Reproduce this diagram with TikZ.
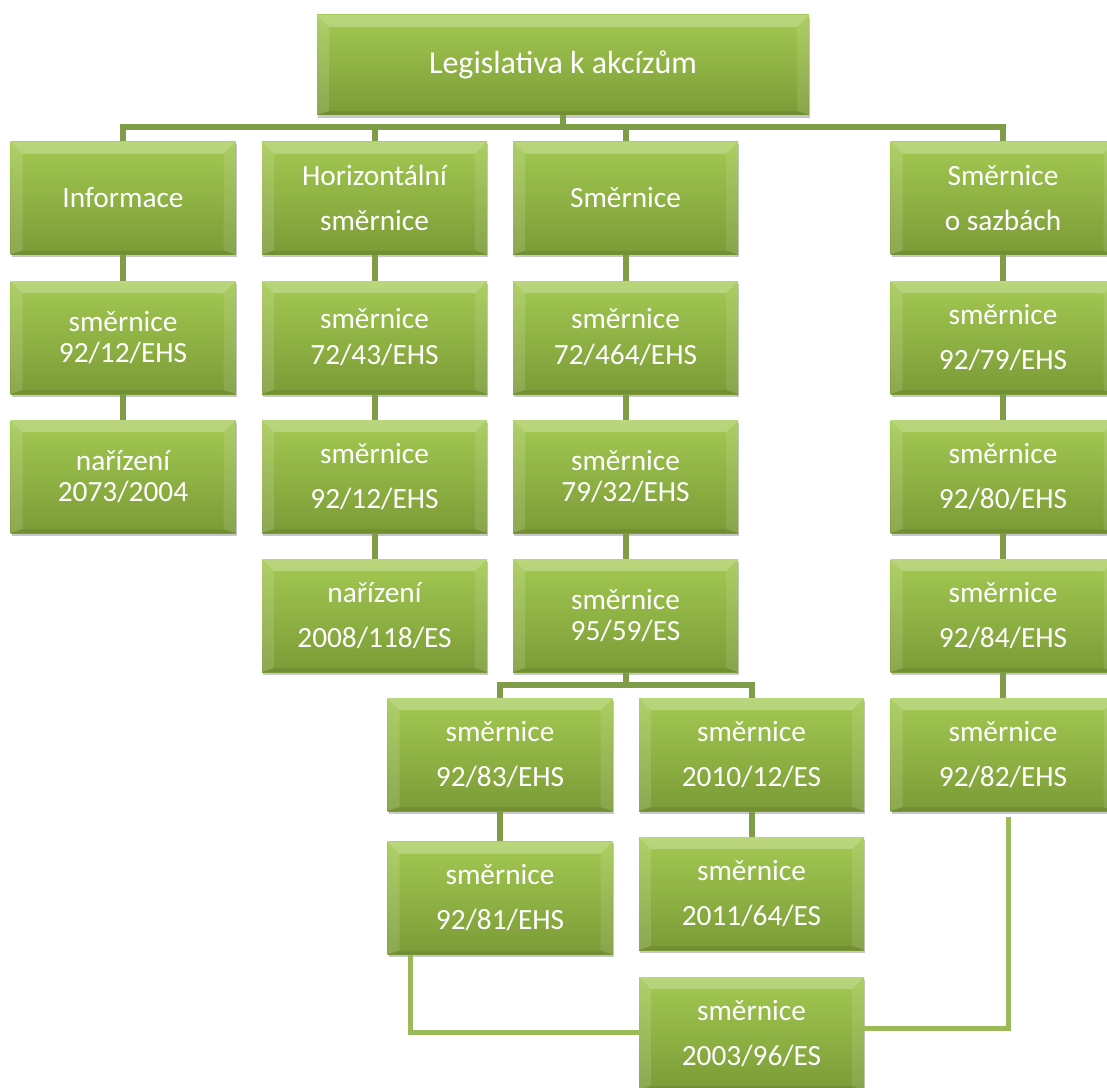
\documentclass[tikz,border=0pt]{standalone}
\usepackage{fontspec}
\setmainfont{Carlito}
\usepackage{xcolor}
\definecolor{leaf-top}{HTML}{A3C952}
\definecolor{leaf-bottom}{HTML}{7B9B37}
\definecolor{branch}{HTML}{7F9C48}
\definecolor{twig}{HTML}{9BBB59}
\usepackage{tikz}
\usetikzlibrary{shadows}

\tikzset{
    leaf/.style={rectangle, inner sep=0pt, minimum width=168.75pt, minimum height=84.75pt,
        text=white, align=center, font=\fontsize{22pt}{33.75pt}\selectfont,
        drop shadow={shadow xshift=1pt, shadow yshift=-2pt, opacity=0.22, fill=black},
        path picture={
            % Body
            \shade[top color=leaf-top, bottom color=leaf-bottom]
                (path picture bounding box.south west) rectangle (path picture bounding box.north east);
            % Top bevel
            \fill[white, opacity=0.25] (path picture bounding box.north west) -- (path picture bounding box.north east)
                -- ([shift={(-9pt,-9pt)}]path picture bounding box.north east)
                -- ([shift={(9pt,-9pt)}]path picture bounding box.north west) -- cycle;
            % Left bevel
            \fill[white, opacity=0.13] (path picture bounding box.north west)
                -- ([shift={(9pt,-9pt)}]path picture bounding box.north west)
                -- ([shift={(9pt,3pt)}]path picture bounding box.south west)
                -- (path picture bounding box.south west) -- cycle;
            % Right bevel
            \fill[white, opacity=0.1] (path picture bounding box.north east)
                -- ([shift={(-9pt,-9pt)}]path picture bounding box.north east)
                -- ([shift={(-9pt,3pt)}]path picture bounding box.south east)
                -- (path picture bounding box.south east) -- cycle;
            % Bottom bevel
            \fill[black, opacity=0.08] (path picture bounding box.south west)
                -- ([shift={(9pt,3pt)}]path picture bounding box.south west)
                -- ([shift={(-9pt,3pt)}]path picture bounding box.south east)
                -- (path picture bounding box.south east) -- cycle;
        }},
    tight/.style={font=\fontsize{22pt}{23.5pt}\selectfont},
    snug/.style={font=\fontsize{22pt}{27pt}\selectfont},
    branch line/.style={draw=branch, line width=4.5pt},
    twig line/.style={draw=twig, line width=3.75pt},
}

\begin{document}
\begin{tikzpicture}[x=0.75pt, y=-0.75pt]

    % Page
    \useasboundingbox (0, 0) rectangle (1107, 1088);

    % Root
    \node[leaf, minimum width=369pt, minimum height=75pt, font=\fontsize{24pt}{30pt}\selectfont]
        (root) at (563, 65) {Legislativa k akcízům};

    % First row
    \node[leaf] (info) at (123, 198) {Informace};
    \node[leaf] (horiz) at (374.5, 198) {Horizontální\\směrnice};
    \node[leaf] (smer) at (625.5, 198) {Směrnice};
    \node[leaf] (sazby) at (1003, 198) {Směrnice\\o sazbách};

    % Informace
    \node[leaf, tight] (info1) at (123, 337.5) {směrnice\\92/12/EHS};
    \node[leaf, tight] (info2) at (123, 476.5) {nařízení\\2073/2004};

    % Horizontalni smernice
    \node[leaf, snug] (horiz1) at (374.5, 337.5) {směrnice\\72/43/EHS};
    \node[leaf] (horiz2) at (374.5, 476.5) {směrnice\\92/12/EHS};
    \node[leaf] (horiz3) at (374.5, 615.5) {nařízení\\2008/118/ES};

    % Smernice
    \node[leaf, snug] (smer1) at (625.5, 337.5) {směrnice\\72/464/EHS};
    \node[leaf, tight] (smer2) at (625.5, 476.5) {směrnice\\79/32/EHS};
    \node[leaf, tight] (smer3) at (625.5, 615.5) {směrnice\\95/59/ES};
    \node[leaf] (smerA) at (500, 754.5) {směrnice\\92/83/EHS};
    \node[leaf] (smerB) at (751.5, 754.5) {směrnice\\2010/12/ES};
    \node[leaf] (smerA2) at (500, 898) {směrnice\\92/81/EHS};
    \node[leaf] (smerB2) at (751.5, 893.5) {směrnice\\2011/64/ES};
    \node[leaf] (spirit) at (751.5, 1033.5) {směrnice\\2003/96/ES};

    % Smernice o sazbach
    \node[leaf] (sazby1) at (1003, 337.5) {směrnice\\92/79/EHS};
    \node[leaf] (sazby2) at (1003, 476.5) {směrnice\\92/80/EHS};
    \node[leaf] (sazby3) at (1003, 615.5) {směrnice\\92/84/EHS};
    \node[leaf] (sazby4) at (1003, 754.5) {směrnice\\92/82/EHS};

    % Bus under the root
    \draw[branch line] (root.south) -- ++(0, 12) -| (info.north);
    \draw[branch line] (root.south) -- ++(0, 12) -| (horiz.north);
    \draw[branch line] (root.south) -- ++(0, 12) -| (smer.north);
    \draw[branch line] (root.south) -- ++(0, 12) -| (sazby.north);

    % Columns
    \draw[branch line] (info.south) -- (info1.north);
    \draw[branch line] (info1.south) -- (info2.north);
    \draw[branch line] (horiz.south) -- (horiz1.north);
    \draw[branch line] (horiz1.south) -- (horiz2.north);
    \draw[branch line] (horiz2.south) -- (horiz3.north);
    \draw[branch line] (smer.south) -- (smer1.north);
    \draw[branch line] (smer1.south) -- (smer2.north);
    \draw[branch line] (smer2.south) -- (smer3.north);
    \draw[branch line] (sazby.south) -- (sazby1.north);
    \draw[branch line] (sazby1.south) -- (sazby2.north);
    \draw[branch line] (sazby2.south) -- (sazby3.north);
    \draw[branch line] (sazby3.south) -- (sazby4.north);

    % Split under 95/59/ES
    \draw[branch line] (smer3.south) -- ++(0, 13) -| (smerA.north);
    \draw[branch line] (smer3.south) -- ++(0, 13) -| (smerB.north);
    \draw[branch line] (smerA.south) -- (smerA2.north);
    \draw[branch line] (smerB.south) -- (smerB2.north);

    % Links to 2003/96/ES
    \draw[twig line] ([shift={(-90, 0)}]smerA2.south) |- ([shift={(0, -1.5)}]spirit.west);
    \draw[twig line] ([shift={(5, 6)}]sazby4.south) |- ([shift={(-6, -5)}]spirit.east);

\end{tikzpicture}
\end{document}
